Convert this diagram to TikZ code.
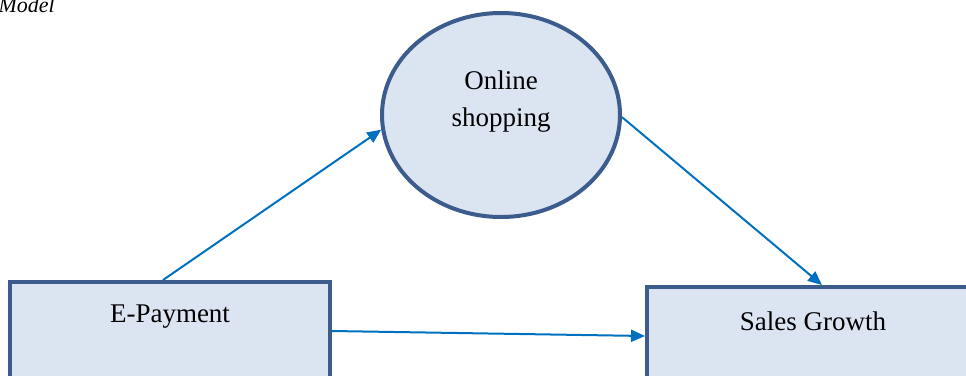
\documentclass[tikz,border=0pt]{standalone}
\usepackage{fontspec}
\setmainfont{Liberation Serif}
\usetikzlibrary{arrows.meta,shapes.geometric,calc}
\definecolor{boxfill}{RGB}{219,228,241}
\definecolor{boxline}{RGB}{59,92,140}
\definecolor{arrowblue}{RGB}{0,112,192}
\tikzset{
  box/.style={draw=boxline, fill=boxfill, line width=4pt, rectangle,
    minimum height=98pt, inner sep=0pt},
  oval/.style={draw=boxline, fill=boxfill, line width=4pt, ellipse,
    minimum width=238pt, minimum height=204pt, inner sep=0pt},
  lbl/.style={font=\fontsize{27}{37}\selectfont, align=center, inner sep=0pt},
  arr/.style={draw=arrowblue, line width=2pt,
    -{Triangle[length=14pt,width=12pt]}}
}
\begin{document}
\begin{tikzpicture}[x=1pt,y=-1pt]
  \useasboundingbox (0,0) rectangle (966,375);
  \clip (0,0) rectangle (966,375);

  % caption fragment
  \node[anchor=base east, inner sep=0pt, font=\fontsize{22}{26}\selectfont\itshape]
    (cap) at (55,12) {Model};

  % variables
  \node[oval] (os) at (501,115) {};
  \node[lbl] (ostext) at ([yshift=13pt]os.center) {Online\\shopping};

  \node[box, minimum width=320pt] (ep) at (170,331) {};
  \node[lbl] (eptext) at ([yshift=14pt]ep.center) {E-Payment};

  \node[box, minimum width=332pt] (sg) at (813,336) {};
  \node[lbl] (sgtext) at ([yshift=15pt]sg.center) {Sales Growth};

  % relations
  \draw[arr] ([xshift=-7pt]ep.north) -- (os.187.5);
  \draw[arr] (os.-1) -- ([xshift=9pt]sg.north);
  \draw[arr] (ep.east) -- (sg.west);
\end{tikzpicture}
\end{document}
